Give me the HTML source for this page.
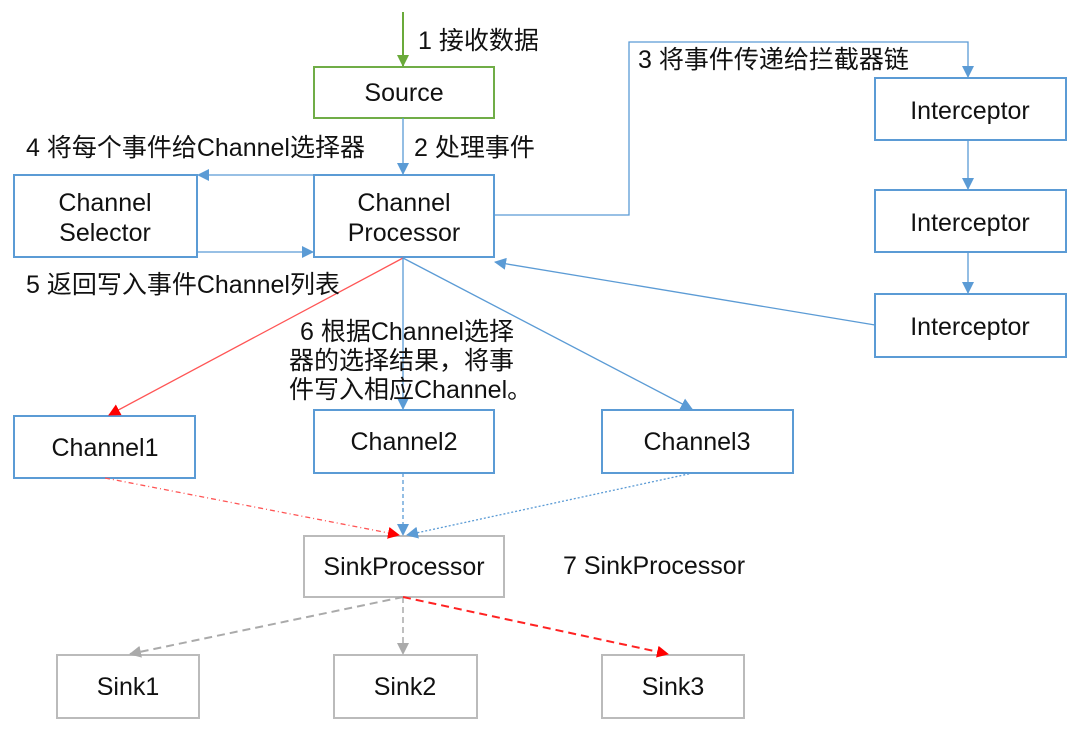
<!DOCTYPE html>
<html><head><meta charset="utf-8"><style>
body{margin:0;background:#fff;width:1080px;height:735px;overflow:hidden}
svg text{font-family:"Liberation Sans","Noto Sans CJK SC",sans-serif;font-size:25px;fill:#111}
</style></head><body>
<svg width="1080" height="735" viewBox="0 0 1080 735">
<defs>
<marker id="b" markerWidth="12" markerHeight="12" refX="11" refY="6" orient="auto" markerUnits="userSpaceOnUse"><path d="M0,0L12,6L0,12z" fill="#5b9bd5"/></marker>
<marker id="r" markerWidth="12" markerHeight="12" refX="11" refY="6" orient="auto" markerUnits="userSpaceOnUse"><path d="M0,0L12,6L0,12z" fill="#f00"/></marker>
<marker id="g" markerWidth="12" markerHeight="12" refX="11" refY="6" orient="auto" markerUnits="userSpaceOnUse"><path d="M0,0L12,6L0,12z" fill="#6aaa3a"/></marker>
<marker id="k" markerWidth="12" markerHeight="12" refX="11" refY="6" orient="auto" markerUnits="userSpaceOnUse"><path d="M0,0L12,6L0,12z" fill="#aaa"/></marker>
</defs>
<g fill="#fff" stroke-width="2">
<rect x="314" y="67" width="180" height="51" stroke="#70ad47"/>
<rect x="14" y="175" width="183" height="82" stroke="#5b9bd5"/>
<rect x="314" y="175" width="180" height="82" stroke="#5b9bd5"/>
<rect x="875" y="78" width="191" height="62" stroke="#5b9bd5"/>
<rect x="875" y="190" width="191" height="62" stroke="#5b9bd5"/>
<rect x="875" y="294" width="191" height="63" stroke="#5b9bd5"/>
<rect x="14" y="416" width="181" height="62" stroke="#5b9bd5"/>
<rect x="314" y="410" width="180" height="63" stroke="#5b9bd5"/>
<rect x="602" y="410" width="191" height="63" stroke="#5b9bd5"/>
<rect x="304" y="536" width="200" height="61" stroke="#bbb"/>
<rect x="57" y="655" width="142" height="63" stroke="#bbb"/>
<rect x="334" y="655" width="143" height="63" stroke="#bbb"/>
<rect x="602" y="655" width="142" height="63" stroke="#bbb"/>
</g>
<g fill="none" stroke-width="1.3">
<line x1="403" y1="12" x2="403" y2="66" stroke="#6aaa3a" stroke-width="2" marker-end="url(#g)"/>
<line x1="403" y1="118" x2="403" y2="174" stroke="#5b9bd5" marker-end="url(#b)"/>
<line x1="314" y1="175" x2="198" y2="175" stroke="#5b9bd5" marker-end="url(#b)"/>
<line x1="197" y1="252" x2="313" y2="252" stroke="#5b9bd5" marker-end="url(#b)"/>
<polyline points="494,215 629,215 629,42 968,42 968,77" stroke="#5b9bd5" marker-end="url(#b)"/>
<line x1="968" y1="140" x2="968" y2="189" stroke="#5b9bd5" marker-end="url(#b)"/>
<line x1="968" y1="252" x2="968" y2="293" stroke="#5b9bd5" marker-end="url(#b)"/>
<line x1="875" y1="325" x2="495" y2="262" stroke="#5b9bd5" marker-end="url(#b)"/>
<line x1="403" y1="258" x2="109" y2="415" stroke="#f55" marker-end="url(#r)"/>
<line x1="403" y1="258" x2="403" y2="409" stroke="#5b9bd5" marker-end="url(#b)"/>
<line x1="403" y1="258" x2="692" y2="409" stroke="#5b9bd5" marker-end="url(#b)"/>
<line x1="105" y1="478" x2="399" y2="535" stroke="#f55" stroke-dasharray="5,3,1,3" marker-end="url(#r)"/>
<line x1="403" y1="473" x2="403" y2="535" stroke="#5b9bd5" stroke-dasharray="4,3" marker-end="url(#b)"/>
<line x1="693" y1="473" x2="407" y2="535" stroke="#5b9bd5" stroke-dasharray="2,2" marker-end="url(#b)"/>
<line x1="403" y1="597" x2="130" y2="654" stroke="#aaa" stroke-width="2" stroke-dasharray="8,5" marker-end="url(#k)"/>
<line x1="403" y1="597" x2="403" y2="654" stroke="#aaa" stroke-width="1.5" stroke-dasharray="6,4" marker-end="url(#k)"/>
<line x1="403" y1="597" x2="668" y2="654" stroke="#f22" stroke-width="2" stroke-dasharray="8,5" marker-end="url(#r)"/>
</g>
<g text-anchor="middle">
<text x="404" y="101">Source</text>
<text x="105" y="211">Channel</text><text x="105" y="241">Selector</text>
<text x="404" y="211">Channel</text><text x="404" y="241">Processor</text>
<text x="970" y="119">Interceptor</text>
<text x="970" y="231">Interceptor</text>
<text x="970" y="335">Interceptor</text>
<text x="105" y="456">Channel1</text>
<text x="404" y="450">Channel2</text>
<text x="697" y="450">Channel3</text>
<text x="404" y="575">SinkProcessor</text>
<text x="128" y="695">Sink1</text>
<text x="405" y="695">Sink2</text>
<text x="673" y="695">Sink3</text>
</g>
<text x="418" y="49">1 接收数据</text>
<text x="414" y="156">2 处理事件</text>
<text x="638" y="68">3 将事件传递给拦截器链</text>
<text x="26" y="156">4 将每个事件给Channel选择器</text>
<text x="26" y="293">5 返回写入事件Channel列表</text>
<text x="300" y="340">6 根据Channel选择</text>
<text x="289" y="369">器的选择结果，将事</text>
<text x="289" y="398">件写入相应Channel。</text>
<text x="563" y="574">7 SinkProcessor</text>
</svg>
</body></html>
